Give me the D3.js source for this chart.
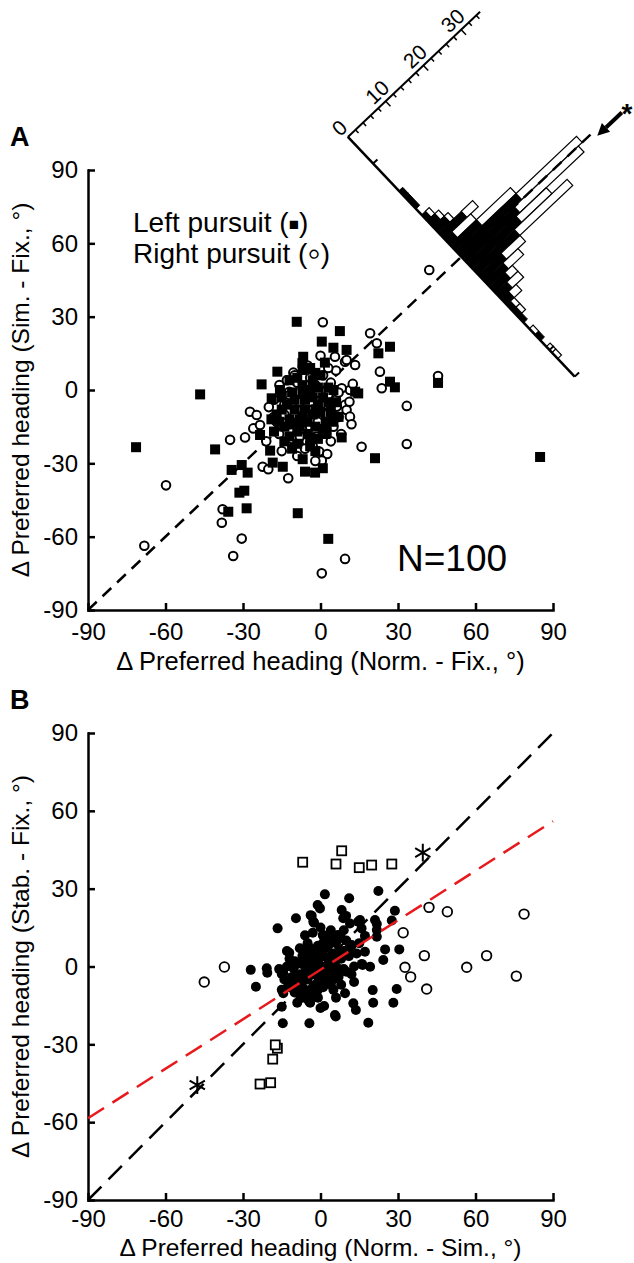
<!DOCTYPE html>
<html>
<head>
<meta charset="utf-8">
<script src="https://cdn.jsdelivr.net/npm/d3@7"></script>
<style>
	body { margin: 0; background: #fff; }
	svg text { font-family: "Liberation Sans", Arial, Helvetica, sans-serif; fill: #000; }
</style>
</head>
<body>
<svg id="fig" width="634" height="1263"></svg>
<script>
// tick values shared by both panels
const axisTicks = [-90, -60, -30, 0, 30, 60, 90];

// Panel A: left pursuit (filled squares), [norm - fix, sim - fix]
const leftPursuit = [
	[-9.2, 27.9], [7.5, 24.1], [0.5, 19.8], [5, 17.3], [10.1, 16.4], [-6.7, 13.6], [1.7, 11.2], [-16.7, 7.5],
	[-6.9, 8.2], [-22.8, 2.3], [-46.6, -1.8], [-18.9, -3.4], [-15.7, 0], [-71.4, -23.4], [-40.8, -24.3],
	[-23.4, -18.4], [8.2, -19.4], [2.4, -17], [-34.4, -32.7], [-30.5, -30.7], [-28.2, -33.8], [-19.5, -24.8],
	[-18.5, -29.7], [-14.6, -31.4], [-6.9, -28.3], [-6, -33.4], [-2.1, -33.8], [0.9, -32], [-31.4, -42],
	[-29.5, -41.2], [-35.7, -49.8], [-28.6, -48.4], [-8.8, -50.4], [3, -60.9], [13.4, -0.7], [26.9, 17.7],
	[22.4, 15], [14.6, -1.4], [26.9, 3.4], [28.8, 1.1], [21.1, -27.9], [85, -27.4], [45.5, 2.9],
	[-10, -8], [-6, -4], [-3, -10], [-12, -12], [-8, -15], [-1, -6], [2, -13], [-15, -8], [-5, -18], [-9, -22],
	[-4, 0], [1, -3], [-7, 2], [-3, 4], [0, 6], [3, 1], [-14, -15], [-12, -19], [-2, -15], [4, -9], [6, -5],
	[-17, -10], [-11, -1], [-7, -11], [-4, -23], [-11, -24], [-1, -20], [5, -13], [-14, -21], [-9, 5], [-4, 9],
	[2, -18], [-6, -8], [0, -9], [-10, -4], [-16, -13], [-18, -17], [7, -11], [-5, -13], [-9, -17], [-1, 1],
	[-12, 4], [1, -16], [3, -5], [-3, -3], [-7, -1], [-13, -6], [5, 0], [-4, -20], [-15, -3], [-19, -12],
	[-2, -25], [-7, 11], [-2, 7], [-8, -12], [-2, -8], [-11, -14]
];

// Panel A: right pursuit (open circles)
const rightPursuit = [
	[0.9, 27.7], [-10.5, 7.1], [-15.9, 2], [-12.1, -0.7], [-18.3, -11.2], [-27.3, -8.9], [-24.7, -10.2],
	[-26, -15.7], [-23.4, -14.3], [-35, -20.4], [-29.2, -19.4], [-22.4, -31.4], [-20.2, -32.4], [-12.5, -36.1],
	[-59.8, -39], [-37.9, -48.8], [-38.2, -54.3], [-30.5, -60.8], [-33.8, -67.9], [-68.2, -63.7], [9.5, -69.1],
	[0.5, -75], [-0.5, -25.2], [2.6, -26.2], [0.5, -28.9], [-2.8, -19.4], [-5.3, -21.1], [9.5, -6.1],
	[11.2, -4.8], [10.1, -8.2], [6.3, -6.8], [11.4, 0], [5.6, 13.6], [9.5, 11.6], [13.4, 10.2], [15.9, -23.2],
	[19.2, 23.2], [21.8, 19.1], [10.1, 12.3], [23, 7.5], [23.7, 0.7], [8.2, 0.7], [12.5, 2.5], [11.4, -10.9],
	[33.4, -6.5], [33.4, -22.1], [42.1, 49.1], [45.5, 5.7], [-1.5, -19.1],
	[-8, -5], [-5, -2], [-3, -8], [-10, -10], [-6, -12], [0, -4], [2, -10], [-14, -6], [-12, -14], [-7, -16],
	[-2, 2], [3, -2], [-9, 3], [-4, 5], [1, 6], [4, 3], [-16, -18], [-11, -20], [-1, -13], [5, -15], [7, -11],
	[-18, -4], [-20, -7], [-13, 4], [6, 8], [-6, -24], [-9, -27], [-3, -23], [8, -18], [-15, -25], [-5, 10],
	[0, 14], [-2, -29], [4, -21], [-7, -8], [2, -6], [-12, -2], [-17, -13], [-21, -21], [12, -14], [-4, -15],
	[-8, -19], [3, 9], [-10, 6], [1, -17], [6, -4], [-1, -1], [-6, 0], [-14, -10], [7, -1]
];

// Panel A inset histogram of (norm - sim) differences, 9 deg bins
const histBinCenters = [-94.5, -85.5, -76.5, -67.5, -58.5, -49.5, -40.5, -31.5, -22.5, -13.5, -4.5, 4.5, 13.5,
	22.5, 31.5, 40.5, 49.5, 58.5, 67.5, 76.5, 85.5, 94.5, 103.5, 112.5, 121.5, 130.5, 139.5, 148.5];
const histLeftCounts = [1, 1, 1, 0, 1, 2, 3, 6, 2, 7, 16, 14, 13, 11, 6, 5, 4, 3, 2, 1, 1, 1, 0, 0, 1, 0, 0, 0];
const histRightCounts = [0, 0, 0, 0, 1, 1, 1, 3, 5, 9, 16, 17, 8, 14, 5, 4, 2, 3, 2, 1, 1, 0, 0, 1, 0, 0, 1, 1];
const histCountTicks = [0, 10, 20, 30];
const histMeanDiff = 6;
const histAnchor = 54.5; // point on the unity line where the inset sits

// Panel B: stab - fix vs norm - sim
const bFilled = [
	[1.7, 27.8], [11.1, 26.3], [-0.2, 22.4], [-1.1, 23.7], [-9.5, 18.6], [-3.4, 19.5], [-2.8, 17.3], [-16.6, 14.7],
	[8.2, 21.8], [8.8, 18.6], [15.3, 17.9], [22.4, 29.1], [-12.1, 5.3], [-4.7, 7.4], [-27, -1.3], [-20.8, -0.7],
	[-20.6, -2.4], [-25, -7.8], [-15, -2.9], [-14.4, -10.3], [-15, -15.5], [-4.7, -12.9], [1.4, -15.2],
	[5.9, -19.3], [9.5, -10.3], [12.7, -14.2], [13.7, -16.8], [20.2, -9.1], [20.4, -14], [18.5, -21.7],
	[-14.6, -21.9], [-4.3, -21.9], [19.2, -0.1], [16.3, 0.6], [17.2, 5.7], [7, 11.8], [12.1, 8.3], [-10.5, -0.7],
	[-9.2, -3.9], [-7.9, -7.8], [-0.2, -1.3], [3.7, 3.8], [28.8, 21.5], [27.6, 17.7], [21.8, 16.4], [25, 6.6],
	[30.5, 6.6], [24.3, 2.5], [29.5, -8.7], [28.2, -14], [17.2, 11.8], [21.8, 11.5], [9.9, 19.5], [11.4, 16.6],
	[14.6, 17.3], [15.9, 14.7], [21.1, 17.9], [21.8, 14.1], [0.9, 12.1], [6.9, 12.1], [-3.8, 19.8], [-2.5, 16.9],
	[-14.4, -2.6], [-12.5, -6.5], [-4.3, -13.6], [5.6, -18.7],
	[0, 0], [-2, 1], [2, -1], [-4, -2], [4, 2], [-1, -4], [1, 4], [-3, 3], [3, -3], [-6, 0], [6, 0], [0, -6],
	[0, 6], [-5, -5], [5, 5], [-5, 5], [5, -5], [-8, -3], [8, 3], [-3, -8], [3, 8], [-7, 4], [7, -4], [-9, -6],
	[9, 6], [-2, -10], [2, 10], [-10, 2], [10, -2], [-6, -9], [6, 9], [-11, -4], [11, 4], [-4, -11], [4, 11],
	[-8, 7], [8, -7], [-12, -8], [12, 8], [-1, -12], [1, 12], [-13, 0], [13, 0], [-7, -12], [7, 12], [-10, -10],
	[10, 10], [-14, -5], [14, 5], [-3, 13], [-1, 2], [1, -2], [-3, -1], [3, 1], [-2, 5], [2, -5], [-5, 2],
	[5, -2], [-4, 7], [4, -7], [-7, -6], [7, 6], [-9, 1], [9, -1], [-1, 8], [1, -8], [-6, -3], [6, 3],
	[-11, -7], [11, 7], [-2, -7], [2, 7], [-4, -14], [4, 14], [-12, 3], [12, -3], [-8, -11], [8, 11],
	[-15, -9], [15, 9], [-5, 9], [5, -9], [-9, -14], [9, 14], [-13, 6], [13, -6], [-16, -1], [16, 1],
	[0, -16], [0, 15], [-6, 12], [6, -12], [-3, -3], [3, 3], [-7, 1], [7, -1], [-1, -9], [1, 9], [-10, -6], [10, 6]
];
const bOpenCircles = [
	[-45, -6], [-37.2, -0.2], [42, 22.8], [49.1, 21.1], [78.8, 20.2], [32, 13], [40.2, 4.2], [32.7, -0.3],
	[34.9, -4], [41.1, -8.7], [56.6, -0.3], [64.3, 4.2], [75.8, -3.7]
];
const bOpenSquares = [
	[-6.9, 40.2], [8.2, 44.6], [6, 39.5], [15, 38.1], [19.8, 39.1], [27.6, 39.5],
	[-16.7, -31.5], [-17.5, -30.2], [-18.5, -35.7], [-23.4, -45.3], [-19.3, -44.8]
];
const bStars = [[39.6, 43.9], [-47.7, -45.7]];
const regSlope = 0.636;
const regIntercept = -1.25;

const svg = d3.select("#fig");

const x = d3.scaleLinear().domain([-90, 90]).range([88, 553]);
const yA = d3.scaleLinear().domain([-90, 90]).range([610, 170]);
const yB = d3.scaleLinear().domain([-90, 90]).range([1200, 733]);

function styleAxis(g) {
	g.select(".domain").attr("stroke-width", 2.5).attr("stroke-linecap", "square");
	g.selectAll(".tick line").attr("stroke-width", 2.5);
	g.selectAll(".tick text").attr("font-size", 24).attr("font-family", null);
}

function drawAxes(y, xTitle, yTitle, labelPad, titleGap, titleSize) {
	const y0 = y.range()[0];
	svg.append("g")
		.attr("transform", `translate(0,${y0})`)
		.call(d3.axisBottom(x).tickValues(axisTicks).tickFormat((d) => String(d))
			.tickSizeInner(-7).tickSizeOuter(0).tickPadding(labelPad))
		.call(styleAxis);
	svg.append("g")
		.attr("transform", `translate(${x.range()[0]},0)`)
		.call(d3.axisLeft(y).tickValues(axisTicks).tickFormat((d) => String(d))
			.tickSizeInner(-7).tickSizeOuter(0).tickPadding(10))
		.call(styleAxis);
	svg.append("text")
		.attr("x", x(0)).attr("y", y0 + titleGap)
		.attr("text-anchor", "middle").attr("font-size", titleSize)
		.text(xTitle);
	svg.append("text")
		.attr("transform", `translate(29,${y(0)}) rotate(-90)`)
		.attr("text-anchor", "middle").attr("font-size", 24.5)
		.text(yTitle);
}

// ---------- Panel A ----------
svg.append("text").attr("x", 10).attr("y", 146).attr("font-size", 27).attr("font-weight", "bold").text("A");
drawAxes(yA, "\u0394 Preferred heading (Norm. - Fix., \u00b0)", "\u0394 Preferred heading (Sim. - Fix., \u00b0)", 13, 60, 25.5);

// inset histogram geometry: u runs along the unity line, v across it
const ux0 = x(1) - x(0), uy0 = yA(1) - yA(0);
const ul = Math.hypot(ux0, uy0);
const u = [ux0 / ul, uy0 / ul];
const v = [-u[1], u[0]];
const hc = [x(histAnchor), yA(histAnchor)];
const tScale = d3.scaleLinear().domain([-180, 180]).range([-165, 165]);
const hScale = d3.scaleLinear().domain([0, 35]).range([0, 182]);
const P = (d, c) => {
	const t = tScale(d), h = hScale(c);
	return [hc[0] + t * v[0] + h * u[0], hc[1] + t * v[1] + h * u[1]];
};
const poly = (pts) => "M" + pts.map((p) => p.join(",")).join("L") + "Z";
const binW = 9;

const hist = svg.append("g");
histBinCenters.forEach((c, i) => {
	const l = histLeftCounts[i], r = histRightCounts[i];
	if (l > 0) {
		hist.append("path")
			.attr("d", poly([P(c - binW / 2, 0), P(c + binW / 2, 0), P(c + binW / 2, l), P(c - binW / 2, l)]))
			.attr("fill", "#000").attr("stroke", "#000").attr("stroke-width", 1);
	}
	if (r > 0) {
		hist.append("path")
			.attr("d", poly([P(c - binW / 2, l), P(c + binW / 2, l), P(c + binW / 2, l + r), P(c - binW / 2, l + r)]))
			.attr("fill", "#fff").attr("stroke", "#000").attr("stroke-width", 1.2);
	}
});

// unity line (dashed), runs into the inset
const diagEnd = P(0, 34.2);
svg.append("path")
	.attr("d", `M${x(-90)},${yA(-90)}L${diagEnd[0]},${diagEnd[1]}`)
	.attr("stroke", "#000").attr("stroke-width", 2.5).attr("stroke-dasharray", "12,8").attr("fill", "none");

// inset baseline and count axis
const b0 = P(-180, 0), b1 = P(180, 0), a1 = P(-180, 35);
hist.append("path").attr("d", `M${b0}L${b1}`).attr("stroke", "#000").attr("stroke-width", 2.5);
hist.append("path").attr("d", `M${b0}L${a1}`).attr("stroke", "#000").attr("stroke-width", 2);
[-140, 140, 180].forEach((d) => {
	const p = P(d, 0);
	hist.append("path").attr("d", `M${p}L${p[0] + 6 * u[0]},${p[1] + 6 * u[1]}`)
		.attr("stroke", "#000").attr("stroke-width", 2);
});
d3.range(0, 35, 2).forEach((k) => {
	const p = P(-180, k);
	const len = k % 10 === 0 ? 7 : 4.5;
	hist.append("path").attr("d", `M${p}L${p[0] + len * v[0]},${p[1] + len * v[1]}`)
		.attr("stroke", "#000").attr("stroke-width", 1.5);
});
const angle = Math.atan2(u[1], u[0]) * 180 / Math.PI;
histCountTicks.forEach((k) => {
	const p = P(-180, k);
	hist.append("text")
		.attr("transform", `translate(${p[0] - 5 * v[0]},${p[1] - 5 * v[1]}) rotate(${angle})`)
		.attr("text-anchor", "middle").attr("font-size", 21)
		.text(k);
});

// mean arrow and asterisk
const tip = P(histMeanDiff, 35), tail = P(histMeanDiff, 41.5);
const back = [tip[0] + 12 * u[0], tip[1] + 12 * u[1]];
hist.append("path").attr("d", `M${tail}L${back}`).attr("stroke", "#000").attr("stroke-width", 4);
hist.append("path")
	.attr("d", poly([tip, [back[0] + 6 * v[0], back[1] + 6 * v[1]], [back[0] - 6 * v[0], back[1] - 6 * v[1]]]))
	.attr("fill", "#000");
const starPos = P(histMeanDiff + 1, 42.7);
hist.append("text").attr("x", starPos[0]).attr("y", starPos[1] + 14)
	.attr("text-anchor", "middle").attr("font-size", 28).attr("font-weight", "bold").text("*");

// scatter A
svg.append("g").selectAll("circle").data(rightPursuit).enter().append("circle")
	.attr("cx", (d) => x(d[0])).attr("cy", (d) => yA(d[1])).attr("r", 4.3)
	.attr("fill", "#fff").attr("stroke", "#000").attr("stroke-width", 2);
svg.append("g").selectAll("rect").data(leftPursuit).enter().append("rect")
	.attr("x", (d) => x(d[0]) - 5).attr("y", (d) => yA(d[1]) - 5)
	.attr("width", 10).attr("height", 10).attr("fill", "#000");

const legL = svg.append("text").attr("x", 133).attr("y", 232).attr("font-size", 28);
legL.append("tspan").text("Left pursuit (");
legL.append("tspan").attr("font-size", 17).attr("dy", -2).text("\u25a0");
legL.append("tspan").attr("dy", 2).text(")");
const legR = svg.append("text").attr("x", 133).attr("y", 263).attr("font-size", 28);
legR.append("tspan").text("Right pursuit (");
legR.append("tspan").attr("font-size", 38).attr("font-weight", "bold").attr("dy", 3).text("\u25e6");
legR.append("tspan").attr("dy", -3).text(")");
svg.append("text").attr("x", 397).attr("y", 571).attr("font-size", 37).text("N=100");

// ---------- Panel B ----------
svg.append("text").attr("x", 10).attr("y", 709).attr("font-size", 27).attr("font-weight", "bold").text("B");
drawAxes(yB, "\u0394 Preferred heading (Norm. - Sim., \u00b0)", "\u0394 Preferred heading (Stab. - Fix., \u00b0)", 10, 56, 24.5);

svg.append("g").selectAll("circle").data(bFilled).enter().append("circle")
	.attr("cx", (d) => x(d[0])).attr("cy", (d) => yB(d[1])).attr("r", 5).attr("fill", "#000");

svg.append("path")
	.attr("d", `M${x(-90)},${yB(-90)}L${x(90)},${yB(90)}`)
	.attr("stroke", "#000").attr("stroke-width", 2.5).attr("stroke-dasharray", "19,10").attr("fill", "none");
svg.append("path")
	.attr("d", `M${x(-90)},${yB(regSlope * -90 + regIntercept)}L${x(90)},${yB(regSlope * 90 + regIntercept)}`)
	.attr("stroke", "#e8191c").attr("stroke-width", 2.5).attr("stroke-dasharray", "19,10").attr("fill", "none");

svg.append("g").selectAll("circle").data(bOpenCircles).enter().append("circle")
	.attr("cx", (d) => x(d[0])).attr("cy", (d) => yB(d[1])).attr("r", 4.8)
	.attr("fill", "#fff").attr("stroke", "#000").attr("stroke-width", 1.8);
svg.append("g").selectAll("rect").data(bOpenSquares).enter().append("rect")
	.attr("x", (d) => x(d[0]) - 4.5).attr("y", (d) => yB(d[1]) - 4.5)
	.attr("width", 9).attr("height", 9)
	.attr("fill", "#fff").attr("stroke", "#000").attr("stroke-width", 1.8);
svg.append("g").selectAll("path").data(bStars).enter().append("path")
	.attr("transform", (d) => `translate(${x(d[0])},${yB(d[1])})`)
	.attr("d", d3.symbol(d3.symbolAsterisk, 220))
	.attr("fill", "none").attr("stroke", "#000").attr("stroke-width", 2);
</script>
</body>
</html>
